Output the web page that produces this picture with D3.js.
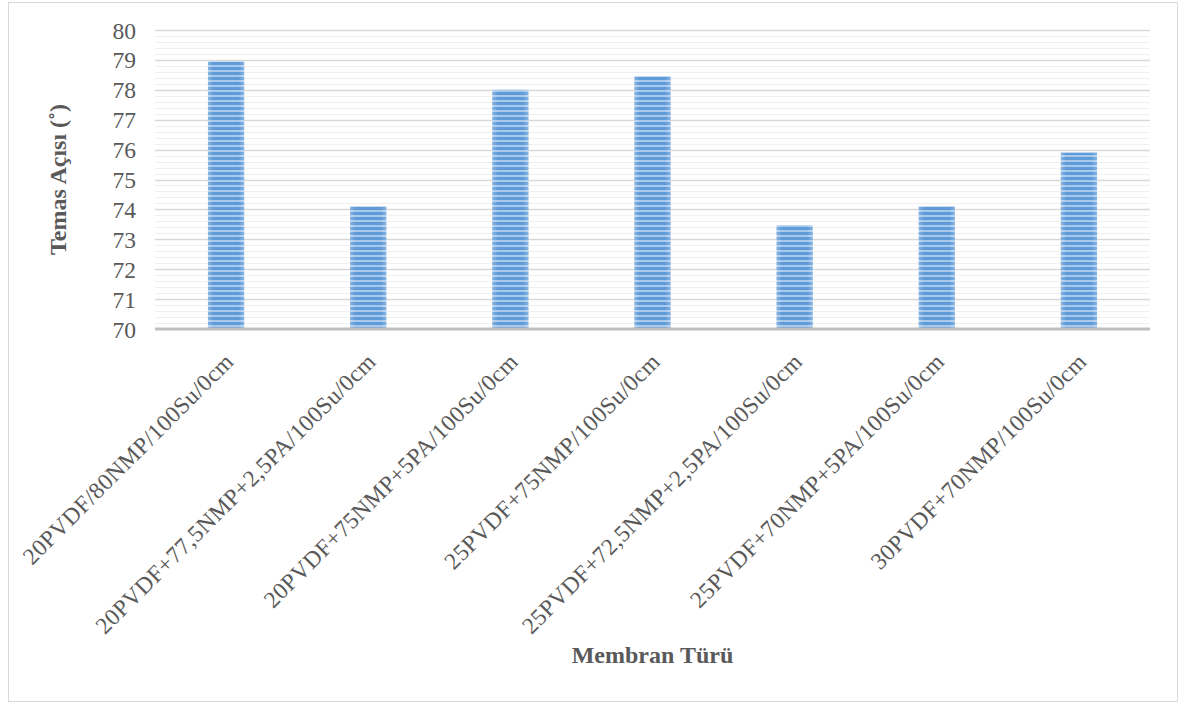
<!DOCTYPE html>
<html><head><meta charset="utf-8">
<script src="https://cdn.jsdelivr.net/npm/d3@7"></script>
<style>body{margin:0;background:#fff}svg{display:block}</style>
</head><body>
<script>
const categories = ["20PVDF/80NMP/100Su/0cm","20PVDF+77,5NMP+2,5PA/100Su/0cm","20PVDF+75NMP+5PA/100Su/0cm","25PVDF+75NMP/100Su/0cm","25PVDF+72,5NMP+2,5PA/100Su/0cm","25PVDF+70NMP+5PA/100Su/0cm","30PVDF+70NMP/100Su/0cm"];
const values = [78.95, 74.1, 78.0, 78.45, 73.47, 74.1, 75.9];
const yTicks = [70,71,72,73,74,75,76,77,78,79,80];
const yTitle = "Temas Açısı (˚)";
const xTitle = "Membran Türü";

const W = 1180, H = 704;
const m = {left:155, right:1150, top:30, bottom:329};
const font = "'Liberation Serif','Times New Roman',serif";
const svg = d3.select("body").append("svg").attr("width",W).attr("height",H);

const defs = svg.append("defs");
const pat = defs.append("pattern").attr("id","stripes").attr("patternUnits","userSpaceOnUse")
  .attr("width",10).attr("height",5).attr("y",m.bottom);
pat.append("rect").attr("width",10).attr("height",5).attr("fill","#5f9bd8");
pat.append("rect").attr("y",1).attr("width",10).attr("height",2).attr("fill","#a9c9ec");
const grad = defs.append("linearGradient").attr("id","hg").attr("x1",0).attr("x2",1).attr("y1",0).attr("y2",0);
grad.append("stop").attr("offset","0%").attr("stop-color","#fff").attr("stop-opacity",0.25);
grad.append("stop").attr("offset","15%").attr("stop-color","#fff").attr("stop-opacity",0.0);
grad.append("stop").attr("offset","85%").attr("stop-color","#fff").attr("stop-opacity",0.0);
grad.append("stop").attr("offset","100%").attr("stop-color","#fff").attr("stop-opacity",0.25);

svg.append("rect").attr("x",8.5).attr("y",2.5).attr("width",1169).attr("height",699)
  .attr("fill","#fff").attr("stroke","#d9d9d9");

const x = d3.scaleBand().domain(categories).range([m.left,m.right]).padding(0);
const y = d3.scaleLinear().domain([70,80]).range([m.bottom,m.top]);

// minor gridlines
const minor = d3.range(70,80.001,0.2).filter(v=>Math.abs(v-Math.round(v))>1e-6);
svg.append("g").selectAll("line").data(minor).join("line")
  .attr("x1",m.left).attr("x2",m.right)
  .attr("y1",d=>Math.round(y(d))+0.5).attr("y2",d=>Math.round(y(d))+0.5)
  .attr("stroke","#f0f0f0").attr("stroke-width",1);
// major gridlines
svg.append("g").selectAll("line").data(yTicks.filter(d=>d>70)).join("line")
  .attr("x1",m.left).attr("x2",m.right)
  .attr("y1",d=>Math.round(y(d))+0.5).attr("y2",d=>Math.round(y(d))+0.5)
  .attr("stroke","#d9d9d9").attr("stroke-width",1.3);

// y axis labels
const yAxis = d3.axisLeft(y).tickValues(yTicks).tickSize(0).tickPadding(0).tickFormat(d3.format("d"));
const ya = svg.append("g").attr("transform",`translate(136,0)`).call(yAxis);
ya.select(".domain").remove();
ya.selectAll("text").attr("font-family",font).attr("font-size",23.5).attr("fill","#595959").attr("dy","0.34em");

// bars
const bw = x.bandwidth()*0.255;
const bars = svg.append("g");
bars.selectAll("rect.b").data(values).join("rect").attr("class","b")
  .attr("x",(d,i)=>x(categories[i])+x.bandwidth()/2-bw/2)
  .attr("width",bw)
  .attr("y",d=>y(d)).attr("height",d=>y(70)-y(d))
  .attr("fill","url(#stripes)");
bars.selectAll("rect.g").data(values).join("rect").attr("class","g")
  .attr("x",(d,i)=>x(categories[i])+x.bandwidth()/2-bw/2)
  .attr("width",bw)
  .attr("y",d=>y(d)).attr("height",d=>y(70)-y(d))
  .attr("fill","url(#hg)");

// x axis line
svg.append("line").attr("x1",m.left).attr("x2",m.right).attr("y1",y(70)).attr("y2",y(70))
  .attr("stroke","#bfbfbf").attr("stroke-width",3);

// x labels
svg.append("g").selectAll("text").data(categories).join("text")
  .attr("transform",d=>`translate(${x(d)+x.bandwidth()/2+9},363) rotate(-45)`)
  .attr("text-anchor","end")
  .attr("font-family",font).attr("font-size",23.5).attr("fill","#595959")
  .attr("letter-spacing",0.4)
  .text(d=>d);

// titles
svg.append("text").attr("transform",`translate(66,${(m.top+m.bottom)/2}) rotate(-90)`)
  .attr("text-anchor","middle").attr("font-family",font).attr("font-weight","bold")
  .attr("font-size",24).attr("fill","#595959").text(yTitle);
svg.append("text").attr("x",(m.left+m.right)/2).attr("y",663)
  .attr("text-anchor","middle").attr("font-family",font).attr("font-weight","bold")
  .attr("font-size",24).attr("fill","#595959").text(xTitle);
</script>
</body></html>
